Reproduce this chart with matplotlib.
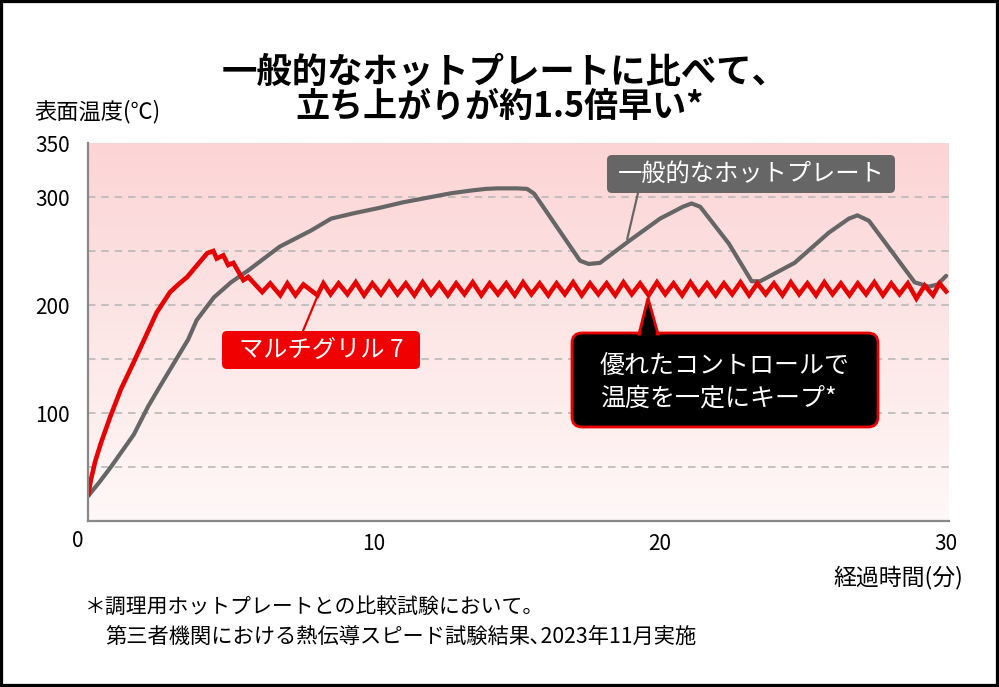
import matplotlib
matplotlib.use('Agg')
import matplotlib.pyplot as plt
import numpy as np
from matplotlib.patches import FancyBboxPatch, Polygon, Rectangle
from matplotlib.colors import LinearSegmentedColormap
from matplotlib.transforms import Affine2D

plt.rcParams['font.family'] = ['Noto Sans CJK JP', 'DejaVu Sans']

# ---------------- data ----------------
title_lines = ["一般的なホットプレートに比べて、", "立ち上がりが約1.5倍早い*"]
y_label = "表面温度(℃)"
x_label = "経過時間(分)"
y_ticks = [100, 200, 300, 350]
x_ticks = [10, 20, 30]
grid_levels = [50, 100, 150, 200, 250, 300]
footnotes = ["＊調理用ホットプレートとの比較試験において。",
             "第三者機関における熱伝導スピード試験結果､2023年11月実施"]

gray_name = "一般的なホットプレート"
red_name = "マルチグリル 7"
callout_lines = ["優れたコントロールで", "温度を一定にキープ*"]

gray_x = [0.0, 0.4, 0.8, 1.2, 1.6, 2.1, 2.5, 3.0, 3.5, 3.8, 4.4, 5.0, 5.6, 6.7, 7.8,
          8.5, 9.3, 10.2, 11.0, 12.0, 12.7, 13.4, 13.9, 14.3, 15.0, 15.35, 15.6, 16.4,
          17.2, 17.5, 17.9, 18.9, 20.0, 20.8, 21.1, 21.4, 22.4, 23.2, 23.5, 24.7, 25.9,
          26.6, 26.9, 27.3, 28.2, 28.9, 29.4, 29.7, 30.0]
gray_y = [23, 36, 50, 65, 80, 106, 124, 146, 168, 186, 207, 221, 232, 254, 269,
          280, 285, 290, 295, 300, 303.5, 306, 307.5, 308, 308, 307.5, 303, 272,
          241, 238, 239, 259, 280, 291, 294, 291, 257, 222, 222, 239, 267,
          280, 283, 278, 246, 221, 217, 219, 227]

red_x = [0.0, 0.1, 0.25, 0.45, 0.77, 1.15, 1.58, 2.0, 2.4, 2.87, 3.2, 3.47, 3.85, 4.17,
         4.38, 4.5, 4.73, 4.9, 5.08, 5.43, 5.6, 6.09, 6.37, 6.72, 6.97, 7.25, 7.53, 8.02,
         8.23, 8.48, 8.76, 9.07, 9.36, 9.65, 9.94, 10.24, 10.53, 10.82, 11.11, 11.41,
         11.7, 11.99, 12.28, 12.58, 12.87, 13.16, 13.45, 13.75, 14.04, 14.33, 14.62,
         14.92, 15.21, 15.5, 15.79, 16.09, 16.38, 16.67, 16.96, 17.26, 17.55, 17.84,
         18.13, 18.43, 18.72, 19.01, 19.3, 19.6, 19.89, 20.18, 20.47, 20.77, 21.06,
         21.35, 21.64, 21.94, 22.23, 22.52, 22.81, 23.11, 23.4, 23.69, 23.98, 24.28,
         24.57, 24.86, 25.15, 25.45, 25.74, 26.03, 26.32, 26.62, 26.91, 27.2, 27.49,
         27.79, 28.08, 28.37, 28.66, 28.96, 29.25, 29.54, 29.77, 30.05]
red_y = [23, 38, 55, 72, 96, 122, 146, 170, 193, 212, 220, 226, 238, 248,
         250, 243, 246, 237, 239, 223, 226, 212, 220, 209, 220, 209, 219, 209,
         220, 210, 220, 210, 221, 209, 220, 210, 221, 210, 220, 209,
         221, 210, 220, 209, 220, 210, 221, 209, 220, 210, 220,
         209, 221, 210, 220, 209, 220, 210, 221, 209, 220, 210,
         220, 209, 221, 210, 220, 209, 221, 210, 220, 209, 221,
         210, 220, 209, 220, 210, 221, 209, 220, 210, 220, 209,
         221, 210, 220, 209, 221, 210, 220, 209, 220, 210, 221,
         209, 220, 210, 220, 206, 218, 209, 220, 211]

# ---------------- figure ----------------
W, H = 999, 687
fig = plt.figure(figsize=(W / 100, H / 100), dpi=100)
pxT = Affine2D().scale(1.0 / W, -1.0 / H).translate(0, 1) + fig.transFigure

ax_l, ax_r, ax_t, ax_b = 88, 949, 143, 521
ax = fig.add_axes([ax_l / W, 1 - ax_b / H, (ax_r - ax_l) / W, (ax_b - ax_t) / H])
ax.set_xlim(0, 30.1)
ax.set_ylim(0, 350)

# pink gradient background
cmap = LinearSegmentedColormap.from_list('pk', ['#fff8f8', '#fde6e6', '#fcd4d5'])
grad = np.linspace(0, 1, 256).reshape(-1, 1)
ax.imshow(grad, extent=[0, 30.1, 0, 350], origin='lower', aspect='auto',
          cmap=cmap, zorder=0)

for g in grid_levels:
    ax.axhline(g, color='#b8b8b8', lw=1.2, dashes=(4.5, 3.5), zorder=1)

ax.plot(gray_x, gray_y, color='#666666', lw=3.0, solid_joinstyle='round',
        solid_capstyle='round', zorder=3)
ax.plot(red_x, red_y, color='#e60000', lw=3.3, solid_joinstyle='miter',
        solid_capstyle='butt', zorder=4)

for s in ['top', 'right']:
    ax.spines[s].set_visible(False)
for s in ['left', 'bottom']:
    ax.spines[s].set_color('#888888')
    ax.spines[s].set_linewidth(1.6)
    ax.spines[s].set_zorder(5)

ax.set_yticks(y_ticks)
ax.set_yticklabels([str(v) for v in y_ticks], fontsize=15)
ax.set_xticks(x_ticks)
ax.set_xticklabels([str(v) for v in x_ticks], fontsize=15)
ax.tick_params(axis='both', length=0)
ax.tick_params(axis='y', pad=13)
ax.tick_params(axis='x', pad=9)

# "0" origin label
fig.text(78, 541, "0", transform=pxT, fontsize=15, ha='center', va='center')

# titles and axis labels
fig.text(505, 72, title_lines[0], transform=pxT, fontsize=25.5, fontweight='bold',
         ha='center', va='center')
fig.text(500, 106, title_lines[1], transform=pxT, fontsize=24.5, fontweight='bold',
         ha='center', va='center')
fig.text(34, 112, y_label, transform=pxT, fontsize=16, ha='left', va='center')
fig.text(963, 577, x_label, transform=pxT, fontsize=16.5, ha='right', va='center')
fig.text(85, 607, footnotes[0], transform=pxT, fontsize=15, ha='left', va='center')
fig.text(105, 637, footnotes[1], transform=pxT, fontsize=15.3, ha='left', va='center')

# gray label with pointer
ax.annotate('', xy=(18.85, 261), xycoords='data',
            xytext=(638, 193), textcoords=pxT,
            arrowprops=dict(arrowstyle='-', color='#666666', lw=1.6,
                            shrinkA=0, shrinkB=0), zorder=6)
fig.patches.append(FancyBboxPatch((607, 155), 288, 38,
                                  boxstyle='round,pad=0,rounding_size=5',
                                  transform=pxT, facecolor='#666666',
                                  edgecolor='none', zorder=7))
fig.text(751, 174, gray_name, transform=pxT, fontsize=17.5, color='white',
         ha='center', va='center', zorder=8)

# red label with pointer
ax.annotate('', xy=(8.02, 208), xycoords='data',
            xytext=(303, 331), textcoords=pxT,
            arrowprops=dict(arrowstyle='-', color='#e60000', lw=1.6,
                            shrinkA=0, shrinkB=0), zorder=6)
fig.patches.append(FancyBboxPatch((222, 331), 198, 38,
                                  boxstyle='round,pad=0,rounding_size=5',
                                  transform=pxT, facecolor='#f00000',
                                  edgecolor='none', zorder=7))
fig.text(321, 350, red_name, transform=pxT, fontsize=17.5, color='white',
         ha='center', va='center', zorder=8)

# callout box
fig.patches.append(FancyBboxPatch((572, 333), 306, 94,
                                  boxstyle='round,pad=0,rounding_size=10',
                                  transform=pxT, facecolor='black',
                                  edgecolor='#e60000', lw=2.0, zorder=7))
fig.patches.append(Polygon([(639, 334), (648, 298), (658, 334)], closed=True,
                           transform=pxT, facecolor='black', edgecolor='#e60000',
                           lw=2.0, joinstyle='miter', zorder=8))
fig.patches.append(Polygon([(641.5, 332), (655.5, 332), (656, 338), (641, 338)],
                           closed=True, transform=pxT, facecolor='black',
                           edgecolor='none', zorder=9))
fig.text(600, 366, callout_lines[0], transform=pxT, fontsize=18, color='white',
         ha='left', va='center', zorder=10)
fig.text(600, 399, callout_lines[1], transform=pxT, fontsize=18, color='white',
         ha='left', va='center', zorder=10)

# outer frame
fig.patches.append(Rectangle((0, 0), 1, 1, transform=fig.transFigure, fill=False,
                             edgecolor='black', lw=4.5, zorder=20))

fig.savefig('out.png', dpi=100)
